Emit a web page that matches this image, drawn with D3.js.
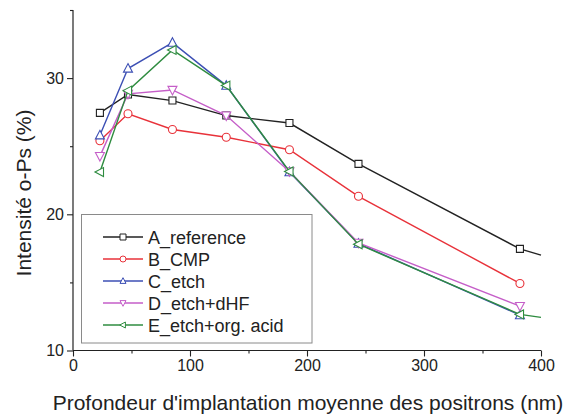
<!DOCTYPE html>
<html>
<head>
<meta charset="utf-8">
<script src="https://cdn.jsdelivr.net/npm/d3@7"></script>
<style>
  html, body { margin: 0; padding: 0; background: #fff; }
  svg { display: block; font-family: "Liberation Sans", Arial, sans-serif; }
</style>
</head>
<body>
<svg id="chart" width="569" height="416"></svg>
<script>
// ---- data ----
const depths = [23, 47, 85, 131, 185, 244, 382];
const seriesNames = ["A_reference", "B_CMP", "C_etch", "D_etch+dHF", "E_etch+org. acid"];
const seriesA = [27.45, 28.8, 28.35, 27.25, 26.7, 23.7, 17.46];
const seriesB = [25.4, 27.38, 26.23, 25.66, 24.74, 21.32, 14.92];
const seriesC = [25.8, 30.7, 32.6, 29.45, 23.1, 17.85, 12.6];
const seriesD = [24.27, 28.84, 29.13, 27.25, 23.15, 17.9, 13.26];
const seriesE = [23.1, 29.08, 32.07, 29.45, 23.15, 17.8, 12.65];
// line continuation to the axis end (no marker there)
const tailA = [400, 17.0];
const tailE = [400, 12.43];
const xTicks = [0, 100, 200, 300, 400];
const xMinorTicks = [50, 150, 250, 350];
const yTicks = [10, 20, 30];
const yMinorTicks = [15, 25, 35];
const colors = ["#222222", "#e8323a", "#3c4fb4", "#c55ec8", "#2f8c40"];
const symbols = ["square", "circle", "triUp", "triDown", "triLeft"];

const svg = d3.select("#chart");
const x = d3.scaleLinear().domain([0, 400]).range([73, 541]);
const y = d3.scaleLinear().domain([10, 35]).range([350.5, 10]);

// axes
const xAxis = svg.append("g").attr("transform", `translate(0,${y(10)})`)
  .call(d3.axisBottom(x).tickValues(xTicks).tickSize(6).tickPadding(3).tickFormat(d3.format("d")));
svg.append("g").attr("transform", `translate(0,${y(10)})`)
  .call(d3.axisBottom(x).tickValues(xMinorTicks).tickSize(3).tickFormat(""))
  .select(".domain").remove();
const yAxis = svg.append("g").attr("transform", `translate(${x(0)},0)`)
  .call(d3.axisLeft(y).tickValues(yTicks).tickSize(6).tickPadding(3).tickFormat(d3.format("d")));
svg.append("g").attr("transform", `translate(${x(0)},0)`)
  .call(d3.axisLeft(y).tickValues(yMinorTicks).tickSize(3).tickFormat(""))
  .select(".domain").remove();
svg.selectAll(".domain").attr("stroke", "#222").attr("stroke-width", 1.2).attr("d", function() { return d3.select(this).attr("d").replace(/M[^V]*V[^H]*H/, m => m); });
// remove outer tick caps from domains
xAxis.select(".domain").attr("d", `M${x(0)},0H${x(400)}`);
yAxis.select(".domain").attr("d", `M0,${y(35)}V${y(10)}`);
svg.selectAll(".tick line").attr("stroke", "#222").attr("stroke-width", 1.1);
svg.selectAll(".tick text").attr("font-size", 16).attr("fill", "#222")
  .attr("font-family", "'Liberation Sans', Arial, sans-serif");

// axis titles
svg.append("text").attr("x", (x(0) + x(400)) / 2 + 1).attr("y", 410)
  .attr("text-anchor", "middle").attr("font-size", 21).attr("fill", "#222")
  .text("Profondeur d'implantation moyenne des positrons (nm)");
svg.append("text").attr("transform", "translate(31,193) rotate(-90)")
  .attr("text-anchor", "middle").attr("font-size", 21).attr("fill", "#222")
  .text("Intensité o-Ps (%)");

// markers
function markerPath(sym, s) {
  const h = s / 2;
  switch (sym) {
    case "square": return `M${-h},${-h}H${h}V${h}H${-h}Z`;
    case "circle": return `M${h},0A${h},${h} 0 1,1 ${-h},0A${h},${h} 0 1,1 ${h},0Z`;
    case "triUp": return `M0,${-h * 1.1}L${h},${h * 0.8}L${-h},${h * 0.8}Z`;
    case "triDown": return `M0,${h * 1.1}L${h},${-h * 0.8}L${-h},${-h * 0.8}Z`;
    case "triLeft": return `M${-h * 1.1},0L${h * 0.8},${-h}L${h * 0.8},${h}Z`;
  }
}

const allSeries = [seriesA, seriesB, seriesC, seriesD, seriesE];
const tails = [tailA, null, null, null, tailE];
const line = d3.line().x(d => x(d[0])).y(d => y(d[1]));

allSeries.forEach((vals, i) => {
  const pts = depths.map((d, j) => [d, vals[j]]);
  const linePts = tails[i] ? pts.concat([tails[i]]) : pts;
  svg.append("path").attr("d", line(linePts)).attr("fill", "none")
    .attr("stroke", colors[i]).attr("stroke-width", 1.4);
  svg.append("g").selectAll("path").data(pts).join("path")
    .attr("transform", d => `translate(${x(d[0])},${y(d[1])})`)
    .attr("d", markerPath(symbols[i], symbols[i] === "square" ? 7 : (symbols[i] === "circle" ? 8 : 9)))
    .attr("fill", "#fff").attr("stroke", colors[i]).attr("stroke-width", 1.1);
});

// legend
const lg = svg.append("g");
lg.append("rect").attr("x", 81.5).attr("y", 214.5).attr("width", 230.5).attr("height", 128.5)
  .attr("fill", "#fff").attr("stroke", "#8a8a8a").attr("stroke-width", 1);
seriesNames.forEach((name, i) => {
  const yy = 237 + i * 22;
  lg.append("line").attr("x1", 103).attr("x2", 143).attr("y1", yy).attr("y2", yy)
    .attr("stroke", colors[i]).attr("stroke-width", 1.4);
  lg.append("path").attr("transform", `translate(123,${yy})`)
    .attr("d", markerPath(symbols[i], 6)).attr("fill", "#fff")
    .attr("stroke", colors[i]).attr("stroke-width", 1);
  lg.append("text").attr("x", 148).attr("y", yy + 6.5).attr("font-size", 18)
    .attr("fill", "#222").text(name);
});
</script>
</body>
</html>
